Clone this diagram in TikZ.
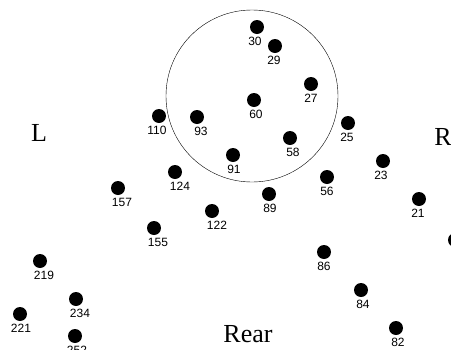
\documentclass[tikz,border=0pt]{standalone}
\usepackage{fontspec}
\setmainfont{Liberation Serif}
\setsansfont{Liberation Sans}

\begin{document}
\begin{tikzpicture}[x=1pt,y=-1pt,
	seat/.style={circle, fill=black, inner sep=0pt, minimum size=14pt},
	seatlbl/.style={font=\sffamily\fontsize{12}{12}\selectfont, inner sep=0pt},
	side/.style={font=\fontsize{26}{26}\selectfont, inner sep=0pt}]
	\useasboundingbox (0,0) rectangle (451,349);
	\clip (0,0) rectangle (451,349);
	% zone
	\draw (252,96) circle [radius=86pt];
	% seats
	\foreach \n/\x/\y/\d in {30/257/27/-2, 29/275/46/-1, 27/311/84/0,
		60/254/100/2, 110/159/116/-2, 93/197/117/4, 58/290/138/3,
		25/348/123/-1, 91/233/155/1, 124/175/172/5, 56/327/177/0,
		23/383/161/-2, 89/269/194/1, 157/118/188/4, 122/212/211/5,
		21/419/199/-1, 155/154/228/4, 86/324/252/0, 219/40/261/4,
		84/361/290/2, 234/76/299/4, 221/20/314/1, 82/396/328/2,
		252/75/336/2}
		\node[seat, label={[seatlbl, label distance=2.5pt, xshift=\d pt]below:\n}] (s\n) at (\x,\y) {};
	\node[seat] (sedge) at (455,240) {};
	% sides
	\node[side] (left) at (39,133) {L};
	\node[side] (right) at (443,137) {R};
	\node[side] (rear) at (248,334) {Rear};
\end{tikzpicture}
\end{document}
